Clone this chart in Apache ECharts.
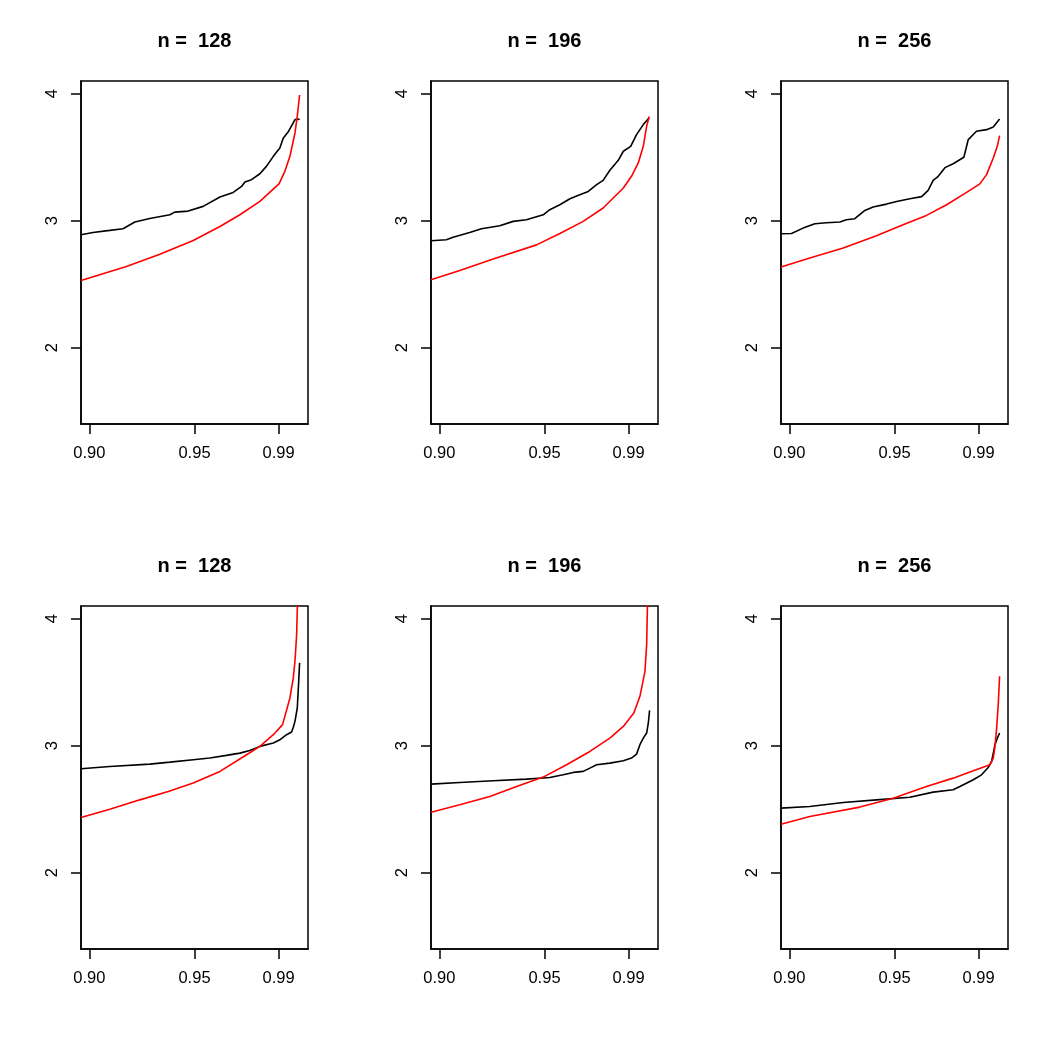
<!DOCTYPE html>
<html><head><meta charset="utf-8">
<script src="https://cdn.jsdelivr.net/npm/echarts@6/dist/echarts.min.js"></script>
<style>html,body{margin:0;padding:0;background:#fff}#c{width:1050px;height:1050px}</style>
</head><body><div id="c"></div>
<script>
const xTicks = [0.90, 0.95, 0.99];
const yTicks = [2, 3, 4];
const panelTitles = ['n =  128', 'n =  196', 'n =  256', 'n =  128', 'n =  196', 'n =  256'];

// top row
const topN128Black = [[0.896,2.89],[0.9017,2.908],[0.9097,2.924],[0.916,2.937],[0.9216,2.99],[0.9287,3.018],[0.9383,3.047],[0.9406,3.068],[0.947,3.076],[0.9541,3.113],[0.9621,3.187],[0.9684,3.223],[0.9724,3.27],[0.974,3.305],[0.9771,3.323],[0.9811,3.37],[0.9843,3.43],[0.9875,3.507],[0.9906,3.573],[0.9922,3.65],[0.9946,3.70],[0.9978,3.796],[1.0,3.80]];
const topN128Red = [[0.896,2.53],[0.9176,2.64],[0.9335,2.737],[0.9494,2.845],[0.9621,2.955],[0.9716,3.047],[0.9811,3.152],[0.9902,3.29],[0.993,3.389],[0.9954,3.507],[0.9978,3.691],[0.9989,3.823],[1.0,3.99]];
const topN196Black = [[0.896,2.842],[0.9033,2.85],[0.9065,2.87],[0.9144,2.908],[0.92,2.937],[0.9287,2.96],[0.9351,2.995],[0.9414,3.008],[0.9494,3.047],[0.9525,3.087],[0.9573,3.126],[0.9621,3.173],[0.9668,3.205],[0.9708,3.231],[0.9748,3.284],[0.9779,3.318],[0.9811,3.397],[0.9851,3.476],[0.9875,3.547],[0.991,3.586],[0.9938,3.678],[0.997,3.757],[0.9998,3.81]];
const topN196Red = [[0.896,2.535],[0.9097,2.608],[0.9256,2.698],[0.9462,2.81],[0.9573,2.90],[0.9684,2.995],[0.9779,3.10],[0.9875,3.258],[0.9914,3.35],[0.9946,3.455],[0.997,3.586],[0.9986,3.744],[0.9998,3.82]];
const topN256Black = [[0.896,2.898],[0.901,2.90],[0.9065,2.942],[0.9121,2.976],[0.9176,2.984],[0.924,2.99],[0.9271,3.008],[0.9311,3.016],[0.9359,3.081],[0.9398,3.108],[0.9462,3.131],[0.951,3.152],[0.9573,3.173],[0.9629,3.19],[0.966,3.239],[0.9684,3.318],[0.9708,3.35],[0.974,3.418],[0.9779,3.449],[0.983,3.50],[0.9851,3.639],[0.989,3.704],[0.9938,3.717],[0.997,3.738],[1.0,3.80]];
const topN256Red = [[0.896,2.635],[0.9097,2.706],[0.9256,2.785],[0.9414,2.882],[0.9541,2.968],[0.9652,3.042],[0.9748,3.126],[0.9843,3.223],[0.9906,3.29],[0.9938,3.363],[0.997,3.494],[0.9989,3.586],[1.0,3.67]];
// bottom row
const botN128Black = [[0.896,2.819],[0.9097,2.837],[0.9287,2.855],[0.9383,2.871],[0.9494,2.89],[0.9573,2.903],[0.9652,2.924],[0.9716,2.942],[0.9763,2.963],[0.9811,2.995],[0.9875,3.021],[0.9906,3.047],[0.9938,3.087],[0.9962,3.108],[0.997,3.145],[0.9978,3.192],[0.9989,3.297],[0.9995,3.481],[1.0,3.652]];
const botN128Red = [[0.896,2.435],[0.9097,2.50],[0.924,2.574],[0.9375,2.64],[0.9494,2.706],[0.9621,2.798],[0.9748,2.929],[0.9811,2.995],[0.9875,3.087],[0.9919,3.166],[0.9954,3.376],[0.997,3.534],[0.9978,3.665],[0.9986,3.875],[0.9991,4.2]];
const botN196Black = [[0.896,2.698],[0.9097,2.711],[0.9256,2.724],[0.9414,2.737],[0.9525,2.75],[0.9589,2.771],[0.9637,2.79],[0.9684,2.798],[0.9716,2.824],[0.9748,2.85],[0.9811,2.863],[0.9875,2.882],[0.9914,2.903],[0.9938,2.934],[0.9954,3.008],[0.997,3.06],[0.9986,3.10],[0.9994,3.179],[1.0,3.279]];
const botN196Red = [[0.896,2.477],[0.9097,2.535],[0.924,2.60],[0.9367,2.679],[0.9494,2.753],[0.9605,2.85],[0.9716,2.955],[0.9811,3.06],[0.9875,3.152],[0.9925,3.258],[0.9954,3.389],[0.9978,3.586],[0.9986,3.796],[0.9991,4.2]];
const botN256Black = [[0.896,2.509],[0.9097,2.522],[0.9256,2.553],[0.9414,2.574],[0.9573,2.595],[0.9684,2.635],[0.9779,2.653],[0.9811,2.679],[0.9875,2.732],[0.9914,2.771],[0.9946,2.829],[0.9962,2.876],[0.9978,3.008],[0.9989,3.06],[1.0,3.10]];
const botN256Red = [[0.896,2.382],[0.9097,2.443],[0.9335,2.517],[0.9494,2.587],[0.9652,2.679],[0.9779,2.745],[0.9875,2.803],[0.9954,2.85],[0.997,2.903],[0.9978,2.995],[0.9986,3.139],[0.9994,3.336],[1.0,3.547]];

const panels = [
  [topN128Black, topN128Red], [topN196Black, topN196Red], [topN256Black, topN256Red],
  [botN128Black, botN128Red], [botN196Black, botN196Red], [botN256Black, botN256Red]
];

const lefts = [81, 431, 781], tops = [81, 606];
const W = 227, H = 343;
const FONT = '"Liberation Sans", Arial, Helvetica, sans-serif';

const grids = [], xAxes = [], yAxes = [], series = [], graphics = [];
panels.forEach((p, i) => {
  const L = lefts[i % 3], T = tops[Math.floor(i / 3)];
  grids.push({left: L, top: T, width: W, height: H, show: true, borderColor: '#000', borderWidth: 1.5, backgroundColor: 'transparent', containLabel: false});
  xAxes.push({
    gridIndex: i, type: 'value', min: 0.896, max: 1.004, position: 'bottom',
    axisLine: {show: true, lineStyle: {color: '#000', width: 1.5}},
    axisTick: {show: true, inside: false, length: 10, lineStyle: {color: '#000', width: 1.5}, customValues: xTicks},
    axisLabel: {show: true, customValues: xTicks, formatter: v => Number(v).toFixed(2), color: '#000', fontSize: 16.5, fontFamily: FONT, margin: 21},
    splitLine: {show: false}
  });
  yAxes.push({
    gridIndex: i, type: 'value', min: 1.4, max: 4.1, position: 'left',
    axisLine: {show: true, lineStyle: {color: '#000', width: 1.5}},
    axisTick: {show: true, inside: false, length: 10, lineStyle: {color: '#000', width: 1.5}, customValues: yTicks},
    axisLabel: {show: true, customValues: yTicks, rotate: 90, formatter: v => String(v), color: '#000', fontSize: 16.5, fontFamily: FONT, margin: 20},
    splitLine: {show: false}
  });
  series.push({type: 'line', xAxisIndex: i, yAxisIndex: i, data: p[0], showSymbol: false, symbol: 'none', clip: true, lineStyle: {color: '#000', width: 1.6}, silent: true, z: 2});
  series.push({type: 'line', xAxisIndex: i, yAxisIndex: i, data: p[1], showSymbol: false, symbol: 'none', clip: true, lineStyle: {color: '#ff0000', width: 1.6}, silent: true, z: 3});
  graphics.push({type: 'text', x: L + W / 2, y: T - 39.3, style: {text: panelTitles[i], font: 'bold 20px ' + FONT, fill: '#000', align: 'center', verticalAlign: 'middle'}});
});

const chart = echarts.init(document.getElementById('c'), null, {renderer: 'canvas'});
chart.setOption({
  animation: false,
  backgroundColor: '#fff',
  grid: grids, xAxis: xAxes, yAxis: yAxes, series: series,
  graphic: graphics
});
</script>
</body></html>
